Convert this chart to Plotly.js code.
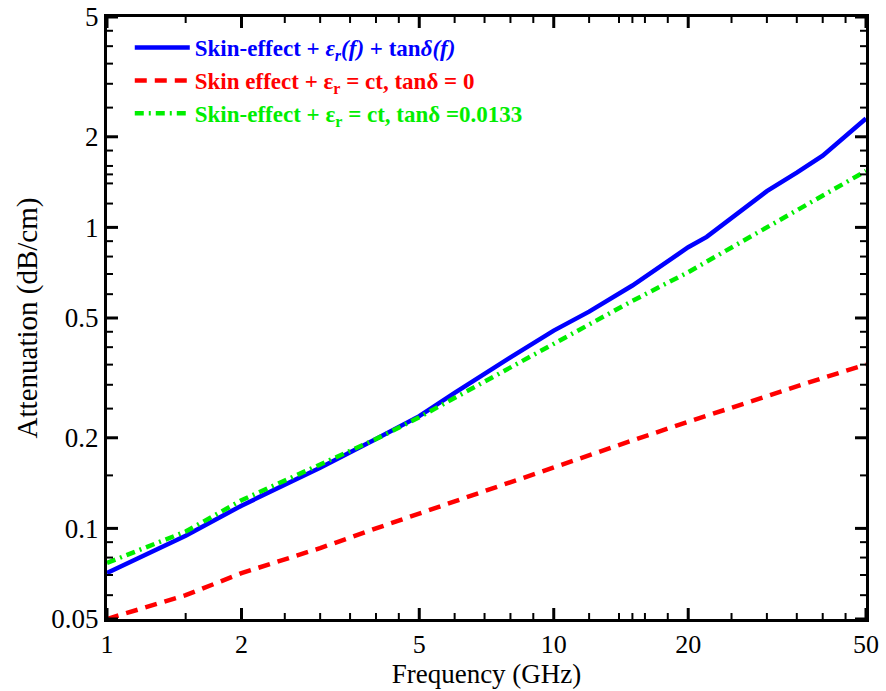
<!DOCTYPE html>
<html>
<head>
<meta charset="utf-8">
<script src="https://cdn.plot.ly/plotly-3.0.1.min.js"></script>
<style>html,body{margin:0;padding:0;background:#fff;}#chart{width:886px;height:691px;}</style>
</head>
<body>
<div id="chart"></div>
<script>
// Frequency (GHz) / Attenuation (dB/cm)
const freqBlue = [1, 1.5, 2, 3, 4, 5, 6, 7, 8, 10, 12, 15, 20, 22, 25, 30, 35, 40, 50];
const attBlue  = [0.0711, 0.0945, 0.119, 0.159, 0.198, 0.236, 0.282, 0.327, 0.370, 0.454, 0.525, 0.641, 0.859, 0.930, 1.07, 1.32, 1.52, 1.73, 2.30];

const freqRed = [1, 1.5, 2, 3, 4, 5, 7, 10, 15, 20, 30, 40, 50];
const attRed  = [0.050, 0.060, 0.071, 0.086, 0.100, 0.112, 0.134, 0.160, 0.196, 0.226, 0.276, 0.316, 0.350];

const freqGreen = [1, 1.5, 2, 3, 4, 5, 7, 10, 15, 20, 30, 40, 50];
const attGreen  = [0.0768, 0.0976, 0.124, 0.163, 0.198, 0.234, 0.307, 0.410, 0.570, 0.710, 1.00, 1.27, 1.54];

const xTickVals = [1, 2, 5, 10, 20, 50];
const xTickText = ['1', '2', '5', '10', '20', '50'];
const xMinorVals = [1.5, 2.5, 3, 3.5, 4, 4.5, 6, 7, 8, 9, 12, 14, 15, 16, 18, 25, 30, 35, 40, 45];
const yTickVals = [0.05, 0.1, 0.2, 0.5, 1, 2, 5];
const yTickText = ['0.05', '0.1', '0.2', '0.5', '1', '2', '5'];
const yMinorVals = [0.06, 0.07, 0.08, 0.09, 0.15, 0.25, 0.3, 0.35, 0.4, 0.45, 0.6, 0.7, 0.8, 0.9, 1.2, 1.4, 1.5, 1.6, 1.8, 2.5, 3, 3.5, 4, 4.5];

const FONT = 'Liberation Serif';

const W = 886, H = 691;
const MARGIN = {l: 107, r: 20, t: 17, b: 72};
const xRange = [0, Math.log10(50)];
const yRange = [Math.log10(0.05), Math.log10(5)];
const pxPerDecX = (W - MARGIN.l - MARGIN.r) / (xRange[1] - xRange[0]);
const pxPerDecY = (H - MARGIN.t - MARGIN.b) / (yRange[1] - yRange[0]);

const names = [
  '<span style="color:#0000ff"><b>Skin-effect + <i>ε<sub>r</sub>(f)</i> + tan<i>δ(f)</i></b></span>',
  '<span style="color:#ff0000"><b>Skin effect + ε<sub>r</sub> = ct, tanδ = 0</b></span>',
  '<span style="color:#00ee00"><b>Skin-effect + ε<sub>r</sub> = ct, tanδ =0.0133</b></span>'
];

const traces = [
  {x: freqBlue, y: attBlue, name: names[0], mode: 'lines', line: {color: '#0000ff', width: 4.5}},
  {x: freqRed, y: attRed, name: names[1], mode: 'lines', line: {color: '#ff0000', width: 4.5, dash: '12px,8px'}},
  {x: freqGreen, y: attGreen, name: names[2], mode: 'lines', line: {color: '#00ee00', width: 4.5, dash: '9px,5px,2px,5px'}}
];

// Inside tick marks on all four sides, built from the tick arrays and drawn through the axes' scales
function xTickTrace(vals, lenPx, w) {
  const f = Math.pow(10, lenPx / pxPerDecY);
  const yLo = Math.pow(10, yRange[0]), yHi = Math.pow(10, yRange[1]);
  const xs = [], ys = [];
  vals.forEach(function (v) {
    xs.push(v, v, null, v, v, null);
    ys.push(yLo, yLo * f, null, yHi, yHi / f, null);
  });
  return {x: xs, y: ys, mode: 'lines', line: {color: 'black', width: w}, showlegend: false, hoverinfo: 'skip', connectgaps: false, cliponaxis: false};
}
function yTickTrace(vals, lenPx, w) {
  const f = Math.pow(10, lenPx / pxPerDecX);
  const xLo = Math.pow(10, xRange[0]), xHi = Math.pow(10, xRange[1]);
  const xs = [], ys = [];
  vals.forEach(function (v) {
    xs.push(xLo, xLo * f, null, xHi, xHi / f, null);
    ys.push(v, v, null, v, v, null);
  });
  return {x: xs, y: ys, mode: 'lines', line: {color: 'black', width: w}, showlegend: false, hoverinfo: 'skip', connectgaps: false, cliponaxis: false};
}
traces.push(
  xTickTrace(xTickVals, 11, 3), xTickTrace(xMinorVals, 6, 2),
  yTickTrace(yTickVals, 11, 3), yTickTrace(yMinorVals, 6, 2)
);

const layout = {
  width: W,
  height: H,
  margin: MARGIN,
  font: {family: FONT, color: 'black'},
  showlegend: true,
  legend: {
    x: 0.03, y: 0.985, xanchor: 'left', yanchor: 'top',
    bgcolor: 'rgba(0,0,0,0)',
    itemwidth: 55,
    font: {family: FONT, size: 23}
  },
  xaxis: {
    type: 'log', range: xRange,
    showgrid: false, zeroline: false,
    showline: true, linecolor: 'black', linewidth: 3, mirror: true,
    ticks: '',
    tickmode: 'array', tickvals: xTickVals, ticktext: xTickText,
    tickfont: {family: FONT, size: 26},
    title: {text: 'Frequency (GHz)', font: {family: FONT, size: 27}, standoff: 3}
  },
  yaxis: {
    type: 'log', range: yRange,
    showgrid: false, zeroline: false,
    showline: true, linecolor: 'black', linewidth: 3, mirror: true,
    ticks: '',
    tickmode: 'array', tickvals: yTickVals, ticktext: yTickText,
    tickfont: {family: FONT, size: 27},
    title: {text: 'Attenuation (dB/cm)', font: {family: FONT, size: 29}, standoff: 6}
  }
};

Plotly.newPlot('chart', traces, layout, {displayModeBar: false});
</script>
</body>
</html>
